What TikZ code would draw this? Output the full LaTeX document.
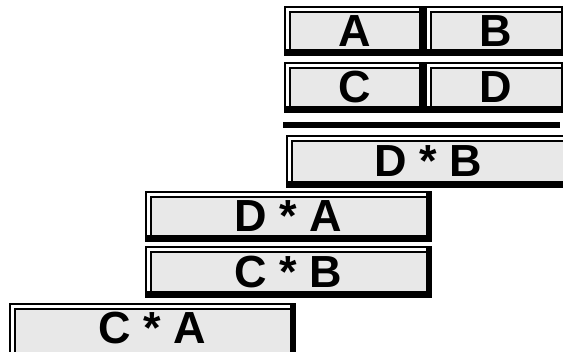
\documentclass[tikz,border=0pt]{standalone}
\usepackage{fontspec}
\setmainfont{Liberation Sans}
\definecolor{btngray}{HTML}{E8E8E8}
\tikzset{
  btnlabel/.style={inner sep=0pt, font=\bfseries\fontsize{45}{45}\selectfont},
  btn/.style={draw=black, line width=1.5pt, fill=white, inner sep=0pt,
    font=\bfseries\fontsize{45}{45}\selectfont,
    path picture={
      \fill[btngray] ([xshift=5pt,yshift=-5pt]path picture bounding box.north west)
        rectangle ([xshift=-5pt,yshift=5pt]path picture bounding box.south east);
      \draw[line width=1.5pt] ([xshift=5pt,yshift=5pt]path picture bounding box.south west)
        |- ([xshift=-5pt,yshift=-5pt]path picture bounding box.north east);
      \draw[line width=1pt] ([xshift=-5pt,yshift=-5pt]path picture bounding box.north east)
        -- (path picture bounding box.north east);
      \fill[black] (path picture bounding box.south west)
        rectangle ([yshift=5.5pt]path picture bounding box.south east);
      \fill[black] ([xshift=-5pt]path picture bounding box.north east)
        rectangle (path picture bounding box.south east);
    }},
}
\newcommand{\mybtn}[6]{%
  \pgfmathsetmacro{\bw}{#4-#2}\pgfmathsetmacro{\bh}{#5-#3}%
  \node[btn, minimum width=\bw pt, minimum height=\bh pt] (#1) at ({(#2+#4)/2},{(#3+#5)/2}) {#6};}
\begin{document}
\begin{tikzpicture}[x=1pt,y=-1pt]
\useasboundingbox (0,0) rectangle (563,352);
\mybtn{a}{285}{7}{424}{55}{A}
\mybtn{b}{426}{7}{566}{55}{B}
\mybtn{c}{285}{63}{424}{112}{C}
\mybtn{d}{426}{63}{566}{112}{D}
\coordinate (barl) at (283,125.5);
\coordinate (barr) at (560,125.5);
\draw[line width=6pt] (barl) -- (barr);
\mybtn{db}{287}{136}{570}{187}{D * B}
\mybtn{da}{146}{192}{431}{241}{D * A}
\mybtn{cb}{146}{247}{431}{297}{C * B}
\mybtn{ca}{10}{304}{295}{358}{}
\node[btnlabel] (calabel) at (152,328) {C * A};
\end{tikzpicture}
\end{document}
